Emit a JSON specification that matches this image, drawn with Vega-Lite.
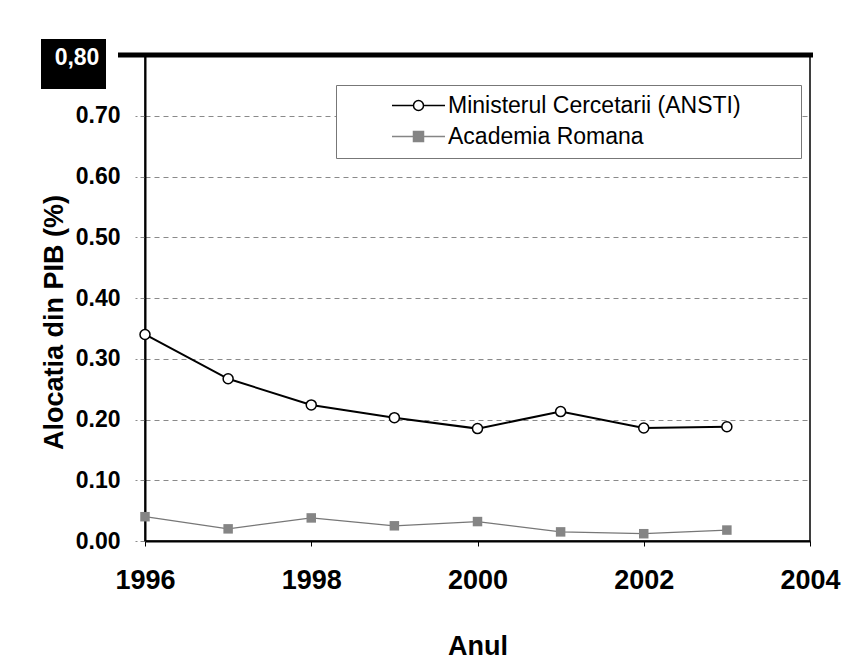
{
  "$schema": "https://vega.github.io/schema/vega-lite/v6.json",
  "autosize": "none",
  "width": 665,
  "height": 486,
  "padding": {"left": 145, "top": 55, "right": 48, "bottom": 124},
  "background": "white",
  "config": {
    "font": "Liberation Sans",
    "view": {"stroke": "black", "strokeWidth": 1.5}
  },
  "data": {"values": [
      {"an": 1996, "valoare": 0.340, "serie": "Ministerul Cercetarii (ANSTI)"},
      {"an": 1997, "valoare": 0.267, "serie": "Ministerul Cercetarii (ANSTI)"},
      {"an": 1998, "valoare": 0.224, "serie": "Ministerul Cercetarii (ANSTI)"},
      {"an": 1999, "valoare": 0.203, "serie": "Ministerul Cercetarii (ANSTI)"},
      {"an": 2000, "valoare": 0.185, "serie": "Ministerul Cercetarii (ANSTI)"},
      {"an": 2001, "valoare": 0.213, "serie": "Ministerul Cercetarii (ANSTI)"},
      {"an": 2002, "valoare": 0.186, "serie": "Ministerul Cercetarii (ANSTI)"},
      {"an": 2003, "valoare": 0.188, "serie": "Ministerul Cercetarii (ANSTI)"},
      {"an": 1996, "valoare": 0.040, "serie": "Academia Romana"},
      {"an": 1997, "valoare": 0.020, "serie": "Academia Romana"},
      {"an": 1998, "valoare": 0.038, "serie": "Academia Romana"},
      {"an": 1999, "valoare": 0.025, "serie": "Academia Romana"},
      {"an": 2000, "valoare": 0.032, "serie": "Academia Romana"},
      {"an": 2001, "valoare": 0.015, "serie": "Academia Romana"},
      {"an": 2002, "valoare": 0.012, "serie": "Academia Romana"},
      {"an": 2003, "valoare": 0.018, "serie": "Academia Romana"}
  ]},
  "encoding": {
    "x": {
      "field": "an", "type": "quantitative",
      "scale": {"domain": [1996, 2004], "nice": false, "zero": false},
      "axis": {
        "title": "Anul", "values": [1996, 1998, 2000, 2002, 2004], "format": "d",
        "grid": false, "domainColor": "black", "domainWidth": 2,
        "tickColor": "black", "tickSize": 5, "tickWidth": 1,
        "labelFontSize": 27, "labelFontWeight": "bold", "labelColor": "black", "labelPadding": 21,
        "labelFlush": false,
        "titleFontSize": 27, "titleFontWeight": "bold", "titleColor": "black",
        "titleBaseline": "top", "titleY": 92
      }
    },
    "y": {
      "field": "valoare", "type": "quantitative",
      "scale": {"domain": [0, 0.8], "nice": false},
      "axis": {
        "title": "Alocatia din PIB (%)", "values": [0, 0.1, 0.2, 0.3, 0.4, 0.5, 0.6, 0.7, 0.8], "format": ".2f",
        "labelExpr": "datum.value >= 0.79 ? '' : datum.label",
        "grid": true, "gridColor": "#8a8a8a", "gridDash": [5, 4], "gridWidth": 1,
        "domainColor": "black", "domainWidth": 2,
        "tickColor": "#8a8a8a", "tickSize": 10, "tickDash": [5, 3],
        "labelFontSize": 23, "labelFontWeight": "bold", "labelColor": "black", "labelPadding": 15,
        "labelFlush": false,
        "titleFontSize": 27, "titleFontWeight": "bold", "titleColor": "black",
        "titleAngle": 270, "titleBaseline": "bottom", "titleX": -77, "titleY": 267
      }
    }
  },
  "layer": [
    {
      "transform": [{"filter": "datum.serie === 'Academia Romana'"}],
      "mark": {"type": "line", "color": "#777777", "strokeWidth": 1.2}
    },
    {
      "transform": [{"filter": "datum.serie === 'Ministerul Cercetarii (ANSTI)'"}],
      "mark": {"type": "line", "color": "black", "strokeWidth": 2}
    },
    {
      "transform": [{"filter": "datum.serie === 'Academia Romana'"}],
      "mark": {"type": "point", "shape": "square", "filled": true, "size": 90, "color": "#858585", "opacity": 1}
    },
    {
      "transform": [{"filter": "datum.serie === 'Ministerul Cercetarii (ANSTI)'"}],
      "mark": {"type": "point", "shape": "circle", "filled": true, "size": 100, "fill": "white", "stroke": "black", "strokeWidth": 1.5, "opacity": 1}
    },
    {
      "mark": {"type": "point", "filled": true, "size": 400, "strokeWidth": 1.5, "opacity": 0},
      "encoding": {
        "shape": {
          "field": "serie", "type": "nominal",
          "scale": {"domain": ["Ministerul Cercetarii (ANSTI)", "Academia Romana"],
                    "range": ["M-2.65,0H-0.5M0.5,0H2.65M-0.5,0A0.5,0.5 0 1,0 0.5,0A0.5,0.5 0 1,0 -0.5,0Z",
                              "M-2.65,0H-0.5M0.5,0H2.65M-0.5,-0.5H0.5V0.5H-0.5Z"]},
          "legend": {
            "title": null, "orient": "none", "legendX": 191, "legendY": 30,
            "fillColor": "white", "strokeColor": "#777777", "padding": 9,
            "labelFontSize": 23, "labelColor": "black", "labelFont": "Liberation Sans", "labelLimit": 600,
            "symbolSize": 400, "symbolOffset": 62, "labelOffset": 18, "rowPadding": 7,
            "symbolOpacity": 1, "symbolStrokeWidth": 1.5,
            "labelExpr": "datum.label + '\u2800\u2800\u2800'"
          }
        },
        "fill": {
          "field": "serie", "type": "nominal",
          "scale": {"domain": ["Ministerul Cercetarii (ANSTI)", "Academia Romana"], "range": ["white", "#858585"]},
          "legend": {"title": null}
        },
        "stroke": {
          "field": "serie", "type": "nominal",
          "scale": {"domain": ["Ministerul Cercetarii (ANSTI)", "Academia Romana"], "range": ["black", "#858585"]},
          "legend": {"title": null}
        }
      }
    },
    {
      "data": {"values": [{"an": 1996, "sfarsit": 2004, "text": "0,80", "valoare": 0.8}]},
      "mark": {"type": "rule", "color": "black", "strokeWidth": 5, "xOffset": -27, "x2Offset": 3},
      "encoding": {
        "x2": {"field": "sfarsit"}
      }
    },
    {
      "data": {"values": [{"an": 1996, "text": "0,80", "valoare": 0.8}]},
      "mark": {"type": "point", "filled": true, "color": "black", "opacity": 1, "size": 4225,
               "shape": "M-1,-0.77H1V0.77H-1Z", "xOffset": -71.5, "yOffset": 9}
    },
    {
      "data": {"values": [{"an": 1996, "text": "0,80", "valoare": 0.8}]},
      "mark": {"type": "text", "color": "white", "fontSize": 23, "fontWeight": "bold",
               "align": "center", "baseline": "middle", "xOffset": -68, "yOffset": 3},
      "encoding": {
        "text": {"field": "text"}
      }
    }
  ]
}
